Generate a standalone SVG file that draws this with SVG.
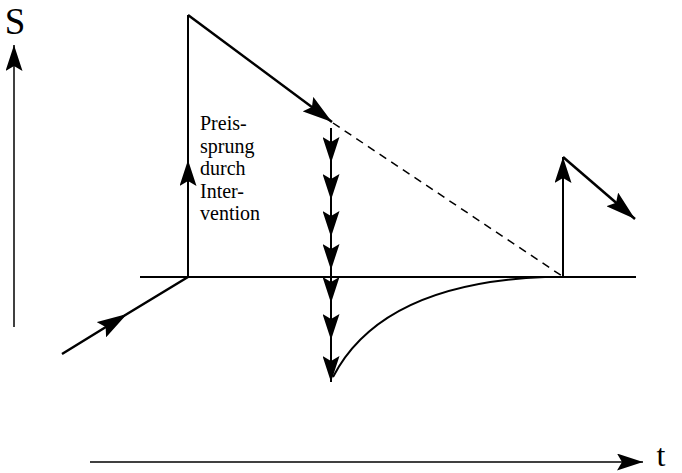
<svg xmlns="http://www.w3.org/2000/svg" width="682" height="473" viewBox="0 0 682 473">
<style>
.ln{fill:none;stroke:#000;stroke-width:2}
.thick{fill:none;stroke:#000;stroke-width:2.5}
.thin{fill:none;stroke:#000;stroke-width:1.5}
.dash{fill:none;stroke:#000;stroke-width:1.5;stroke-dasharray:8 6}
.lbl{font-family:"Liberation Serif","Times New Roman",serif;fill:#000}
</style>
<defs>
<marker id="ah" viewBox="0 0 30 18" refX="30" refY="9" markerWidth="30" markerHeight="18" markerUnits="userSpaceOnUse" orient="auto">
<path d="M0,0 L30,9 L0,18 L5,9 z" fill="#000"/>
</marker>
<marker id="ahs" viewBox="0 0 26 17" refX="26" refY="8.5" markerWidth="26" markerHeight="17" markerUnits="userSpaceOnUse" orient="auto">
<path d="M0,0 L26,8.5 L0,17 L5,8.5 z" fill="#000"/>
</marker>
</defs>
<g id="labels">
<text class="lbl" x="15" y="34" font-size="37" text-anchor="middle">S</text>
<text class="lbl" x="661" y="466" font-size="32" text-anchor="middle">t</text>
<text class="lbl" x="200" y="130" font-size="20">Preis-</text>
<text class="lbl" x="200" y="152.5" font-size="20">sprung</text>
<text class="lbl" x="200" y="175" font-size="20">durch</text>
<text class="lbl" x="200" y="197.5" font-size="20">Inter-</text>
<text class="lbl" x="200" y="220" font-size="20">vention</text>
</g>
<g id="connectors">
<polyline class="thin" points="14,327 14,45" marker-end="url(#ahs)"/>
<polyline class="thin" points="90,462 643,462" marker-end="url(#ahs)"/>
<line class="ln" x1="140" y1="277" x2="636" y2="277"/>
<polyline class="thick" points="62,354 127,314 188,277" marker-mid="url(#ah)"/>
<polyline class="ln" points="188,277 188,160 188,15" marker-mid="url(#ahs)"/>
<polyline class="thick" points="188,15 332,122" marker-end="url(#ah)"/>
<line class="dash" x1="333" y1="123" x2="562" y2="276"/>
<polyline class="ln" points="331,128 331,163 331,200 331,237 331,270 331,303 331,340 331,382" marker-mid="url(#ahs)" marker-end="url(#ahs)"/>
<path class="ln" d="M333,377 C360,325 420,282 545,277"/>
<polyline class="ln" points="563,277 563,157" marker-end="url(#ahs)"/>
<polyline class="thick" points="563,157 635,219" marker-end="url(#ah)"/>
</g>
</svg>
